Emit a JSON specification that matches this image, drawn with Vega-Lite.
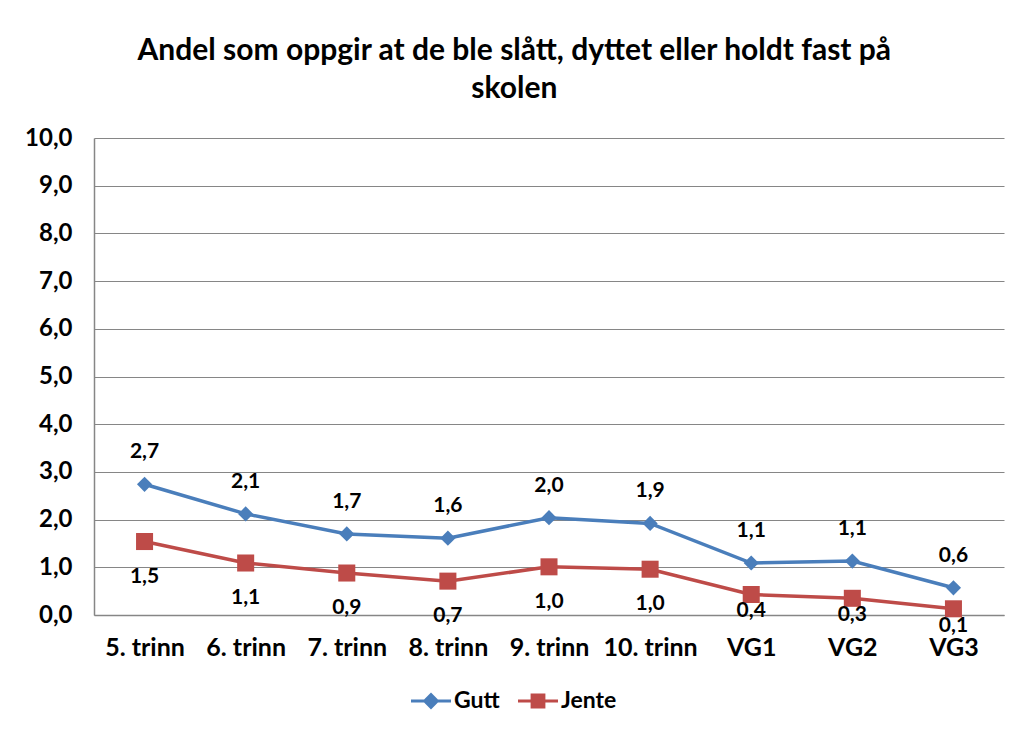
{
  "$schema": "https://vega.github.io/schema/vega-lite/v6.json",
  "width": 910,
  "height": 477,
  "padding": {"left": 24, "top": 36, "right": 8, "bottom": 5},
  "background": "white",
  "config": {
    "locale": {"number": {"decimal": ",", "thousands": " ", "grouping": [3], "currency": ["", " kr"]}},
    "view": {"stroke": null},
    "font": "Lato"
  },
  "title": {
    "text": ["Andel som oppgir at de ble slått, dyttet eller holdt fast på", "skolen"],
    "fontSize": 30,
    "fontWeight": "bold",
    "font": "Lato",
    "lineHeight": 38,
    "frame": "bounds",
    "anchor": "middle",
    "offset": 22,
    "color": "black"
  },
  "data": {
    "values": [
      {"trinn": "5. trinn", "kjonn": "Gutt", "andel": 2.74},
      {"trinn": "6. trinn", "kjonn": "Gutt", "andel": 2.12},
      {"trinn": "7. trinn", "kjonn": "Gutt", "andel": 1.7},
      {"trinn": "8. trinn", "kjonn": "Gutt", "andel": 1.61},
      {"trinn": "9. trinn", "kjonn": "Gutt", "andel": 2.04},
      {"trinn": "10. trinn", "kjonn": "Gutt", "andel": 1.92},
      {"trinn": "VG1", "kjonn": "Gutt", "andel": 1.09},
      {"trinn": "VG2", "kjonn": "Gutt", "andel": 1.13},
      {"trinn": "VG3", "kjonn": "Gutt", "andel": 0.57},
      {"trinn": "5. trinn", "kjonn": "Jente", "andel": 1.54},
      {"trinn": "6. trinn", "kjonn": "Jente", "andel": 1.09},
      {"trinn": "7. trinn", "kjonn": "Jente", "andel": 0.88},
      {"trinn": "8. trinn", "kjonn": "Jente", "andel": 0.71},
      {"trinn": "9. trinn", "kjonn": "Jente", "andel": 1.01},
      {"trinn": "10. trinn", "kjonn": "Jente", "andel": 0.96},
      {"trinn": "VG1", "kjonn": "Jente", "andel": 0.43},
      {"trinn": "VG2", "kjonn": "Jente", "andel": 0.35},
      {"trinn": "VG3", "kjonn": "Jente", "andel": 0.13}
    ]
  },
  "encoding": {
    "x": {
      "field": "trinn",
      "type": "nominal",
      "sort": null,
      "axis": {
        "title": null,
        "labelAngle": 0,
        "labelFontSize": 25,
        "labelFontWeight": "bold",
        "labelFont": "Lato",
        "labelColor": "black",
        "labelPadding": 20,
        "ticks": false,
        "tickSize": 0,
        "grid": false,
        "domainColor": "#868686",
        "domainWidth": 1.5
      }
    },
    "y": {
      "field": "andel",
      "type": "quantitative",
      "scale": {"domain": [0, 10], "nice": false},
      "axis": {
        "title": null,
        "values": [0, 1, 2, 3, 4, 5, 6, 7, 8, 9, 10],
        "format": ".1f",
        "labelFontSize": 24,
        "labelFontWeight": "bold",
        "labelFont": "Lato",
        "labelColor": "black",
        "labelPadding": 22,
        "ticks": false,
        "tickSize": 0,
        "domainColor": "#868686",
        "domainWidth": 1.5,
        "gridColor": "#868686",
        "gridWidth": 1.2
      }
    },
    "color": {
      "field": "kjonn",
      "type": "nominal",
      "scale": {"domain": ["Gutt", "Jente"], "range": ["#4A7EBB", "#BE4B48"]},
      "legend": {
        "title": null,
        "orient": "none",
        "direction": "horizontal",
        "legendX": 317,
        "legendY": 543,
        "labelFontSize": 23,
        "labelFontWeight": "bold",
        "labelFont": "Lato",
        "labelColor": "black",
        "symbolSize": 1600,
        "labelOffset": 3,
        "columnPadding": 18,
        "encode": {
          "symbols": {
            "update": {
              "shape": {"signal": "datum.value === 'Gutt' ? 'M-1,-0.08H1V0.08H-1Z M0,-0.42L0.42,0L0,0.42L-0.42,0Z' : 'M-1,-0.08H1V0.08H-1Z M-0.37,-0.37H0.37V0.37H-0.37Z'"},
              "fill": {"signal": "datum.value === 'Gutt' ? '#4A7EBB' : '#BE4B48'"},
              "fillOpacity": {"value": 1},
              "strokeWidth": {"value": 0},
              "opacity": {"value": 1}
            }
          }
        }
      }
    }
  },
  "layer": [
    {
      "mark": {"type": "line", "strokeWidth": 3.5}
    },
    {
      "transform": [{"filter": "datum.kjonn === 'Gutt'"}],
      "mark": {"type": "point", "filled": true, "opacity": 1, "shape": "diamond", "size": 230}
    },
    {
      "transform": [{"filter": "datum.kjonn === 'Jente'"}],
      "mark": {"type": "point", "filled": true, "opacity": 1, "shape": "square", "size": 290}
    },
    {
      "transform": [{"filter": "datum.kjonn === 'Gutt'"}],
      "mark": {"type": "text", "dy": -32, "fontSize": 21, "fontWeight": "bold", "font": "Lato", "color": "black"},
      "encoding": {
        "text": {"field": "andel", "type": "quantitative", "format": ".1f"},
        "color": {"value": "black"}
      }
    },
    {
      "transform": [{"filter": "datum.kjonn === 'Jente' && indexof(['VG1', 'VG2', 'VG3'], datum.trinn) < 0"}],
      "mark": {"type": "text", "dy": 35, "fontSize": 21, "fontWeight": "bold", "font": "Lato", "color": "black"},
      "encoding": {
        "text": {"field": "andel", "type": "quantitative", "format": ".1f"},
        "color": {"value": "black"}
      }
    },
    {
      "transform": [{"filter": "datum.kjonn === 'Jente' && indexof(['VG1', 'VG2', 'VG3'], datum.trinn) >= 0"}],
      "mark": {"type": "text", "dy": 17, "fontSize": 21, "fontWeight": "bold", "font": "Lato", "color": "black"},
      "encoding": {
        "text": {"field": "andel", "type": "quantitative", "format": ".1f"},
        "color": {"value": "black"}
      }
    }
  ]
}
